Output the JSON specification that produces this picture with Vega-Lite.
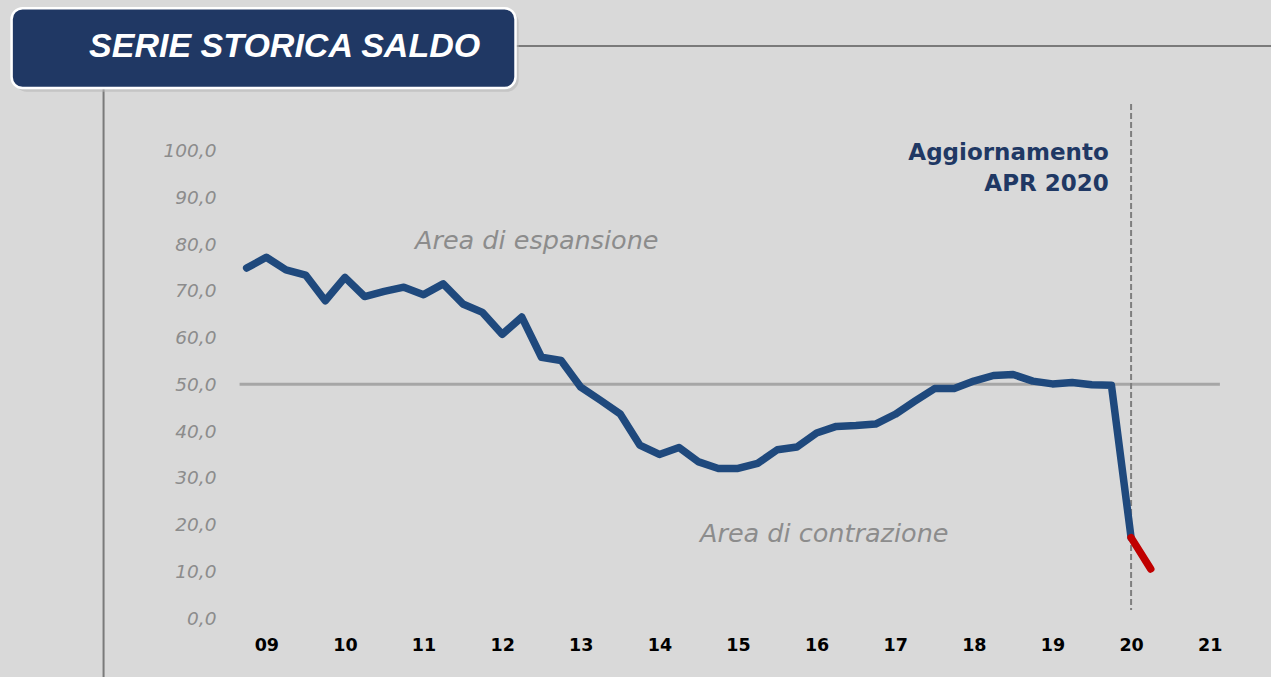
{
  "$schema": "https://vega.github.io/schema/vega-lite/v6.json",
  "width": 1022,
  "height": 514,
  "autosize": {"type": "none"},
  "padding": {"left": 227, "top": 104, "right": 22, "bottom": 59},
  "background": "#d9d9d9",
  "config": {"view": {"stroke": null}},
  "datasets": {
    "serie": [
      {"t": 2008.75, "v": 74.9, "s": "storico"},
      {"t": 2009.0, "v": 77.2, "s": "storico"},
      {"t": 2009.25, "v": 74.5, "s": "storico"},
      {"t": 2009.5, "v": 73.4, "s": "storico"},
      {"t": 2009.75, "v": 67.9, "s": "storico"},
      {"t": 2010.0, "v": 72.9, "s": "storico"},
      {"t": 2010.25, "v": 68.8, "s": "storico"},
      {"t": 2010.5, "v": 69.9, "s": "storico"},
      {"t": 2010.75, "v": 70.8, "s": "storico"},
      {"t": 2011.0, "v": 69.2, "s": "storico"},
      {"t": 2011.25, "v": 71.5, "s": "storico"},
      {"t": 2011.5, "v": 67.2, "s": "storico"},
      {"t": 2011.75, "v": 65.4, "s": "storico"},
      {"t": 2012.0, "v": 60.7, "s": "storico"},
      {"t": 2012.25, "v": 64.4, "s": "storico"},
      {"t": 2012.5, "v": 55.8, "s": "storico"},
      {"t": 2012.75, "v": 55.1, "s": "storico"},
      {"t": 2013.0, "v": 49.4, "s": "storico"},
      {"t": 2013.25, "v": 46.6, "s": "storico"},
      {"t": 2013.5, "v": 43.7, "s": "storico"},
      {"t": 2013.75, "v": 37.0, "s": "storico"},
      {"t": 2014.0, "v": 35.0, "s": "storico"},
      {"t": 2014.25, "v": 36.5, "s": "storico"},
      {"t": 2014.5, "v": 33.4, "s": "storico"},
      {"t": 2014.75, "v": 32.0, "s": "storico"},
      {"t": 2015.0, "v": 32.0, "s": "storico"},
      {"t": 2015.25, "v": 33.1, "s": "storico"},
      {"t": 2015.5, "v": 36.0, "s": "storico"},
      {"t": 2015.75, "v": 36.6, "s": "storico"},
      {"t": 2016.0, "v": 39.6, "s": "storico"},
      {"t": 2016.25, "v": 41.0, "s": "storico"},
      {"t": 2016.5, "v": 41.2, "s": "storico"},
      {"t": 2016.75, "v": 41.5, "s": "storico"},
      {"t": 2017.0, "v": 43.6, "s": "storico"},
      {"t": 2017.25, "v": 46.4, "s": "storico"},
      {"t": 2017.5, "v": 49.1, "s": "storico"},
      {"t": 2017.75, "v": 49.1, "s": "storico"},
      {"t": 2018.0, "v": 50.7, "s": "storico"},
      {"t": 2018.25, "v": 51.9, "s": "storico"},
      {"t": 2018.5, "v": 52.1, "s": "storico"},
      {"t": 2018.75, "v": 50.7, "s": "storico"},
      {"t": 2019.0, "v": 50.1, "s": "storico"},
      {"t": 2019.25, "v": 50.4, "s": "storico"},
      {"t": 2019.5, "v": 49.9, "s": "storico"},
      {"t": 2019.75, "v": 49.8, "s": "storico"},
      {"t": 2020.0, "v": 17.2, "s": "storico"},
      {"t": 2020.0, "v": 17.2, "s": "aprile"},
      {"t": 2020.25, "v": 10.5, "s": "aprile"}
    ]
  },
  "layer": [
    {
      "data": {"values": [{"x1": 2006.93, "x2": 2006.93, "y1": 113.4, "y2": -12.6}, {"x1": 2012.17, "x2": 2021.78, "y1": 122.4, "y2": 122.4}]},
      "mark": {"type": "rule", "color": "#7a7a7a", "strokeWidth": 2},
      "encoding": {
        "x": {"field": "x1", "type": "quantitative", "scale": {"domain": [2008.5, 2021.5], "nice": false, "zero": false}},
        "x2": {"field": "x2"},
        "y": {"field": "y1", "type": "quantitative", "scale": {"domain": [0, 110], "nice": false}},
        "y2": {"field": "y2"}
      }
    },
    {
      "data": {"values": [{"x1": 2005.80, "x2": 2012.21, "y1": 130.0, "y2": 112.6}]},
      "mark": {"type": "rect", "color": "#b8b8b8", "opacity": 0.6, "cornerRadius": 12},
      "encoding": {
        "x": {"field": "x1", "type": "quantitative"},
        "x2": {"field": "x2"},
        "y": {"field": "y1", "type": "quantitative"},
        "y2": {"field": "y2"}
      }
    },
    {
      "data": {"values": [{"x1": 2005.76, "x2": 2012.17, "y1": 130.5, "y2": 113.4}]},
      "mark": {"type": "rect", "color": "#203864", "stroke": "#ffffff", "strokeWidth": 2.5, "cornerRadius": 11},
      "encoding": {
        "x": {"field": "x1", "type": "quantitative"},
        "x2": {"field": "x2"},
        "y": {"field": "y1", "type": "quantitative"},
        "y2": {"field": "y2"}
      }
    },
    {
      "data": {"values": [{"x": 2009.233, "y": 122.2, "label": "SERIE STORICA SALDO"}]},
      "mark": {"type": "text", "color": "#ffffff", "font": "Liberation Sans", "fontSize": 34, "fontWeight": "bold", "fontStyle": "italic", "align": "center", "baseline": "middle"},
      "encoding": {
        "x": {"field": "x", "type": "quantitative"},
        "y": {"field": "y", "type": "quantitative"},
        "text": {"field": "label"}
      }
    },
    {
      "data": {"values": [{"x1": 2008.66, "x2": 2021.13, "y": 50}]},
      "mark": {"type": "rule", "color": "#a6a6a6", "strokeWidth": 3},
      "encoding": {
        "x": {"field": "x1", "type": "quantitative"},
        "x2": {"field": "x2"},
        "y": {"field": "y", "type": "quantitative"}
      }
    },
    {
      "data": {"values": [{"x": 2020.0, "y1": 110, "y2": 1.7}]},
      "mark": {"type": "rule", "color": "#7f7f7f", "strokeWidth": 2, "strokeDash": [6, 3]},
      "encoding": {
        "x": {"field": "x", "type": "quantitative"},
        "y": {"field": "y1", "type": "quantitative"},
        "y2": {"field": "y2"}
      }
    },
    {
      "data": {"name": "serie"},
      "mark": {"type": "line", "strokeWidth": 7.5, "strokeCap": "round", "strokeJoin": "round"},
      "encoding": {
        "x": {
          "field": "t", "type": "quantitative", "title": null,
          "axis": {
            "values": [2009, 2010, 2011, 2012, 2013, 2014, 2015, 2016, 2017, 2018, 2019, 2020, 2021],
            "labelExpr": "substring(toString(datum.value), 2)",
            "domain": false, "ticks": false, "grid": false,
            "labelFont": "DejaVu Sans", "labelFontSize": 17.5, "labelFontWeight": "bold", "labelColor": "#000000",
            "labelPadding": 18, "labelFlush": false
          }
        },
        "y": {
          "field": "v", "type": "quantitative", "title": null,
          "axis": {
            "values": [0, 10, 20, 30, 40, 50, 60, 70, 80, 90, 100],
            "labelExpr": "replace(format(datum.value, '.1f'), '.', ',')",
            "domain": false, "ticks": false, "grid": false,
            "labelFont": "DejaVu Sans", "labelFontSize": 18.5, "labelFontStyle": "italic", "labelColor": "#8c8c8c",
            "labelPadding": 11, "labelFlush": false
          }
        },
        "color": {"field": "s", "type": "nominal", "legend": null, "scale": {"domain": ["storico", "aprile"], "range": ["#1f497d", "#c00000"]}},
        "order": {"field": "t", "type": "quantitative"}
      }
    },
    {
      "data": {"values": [{"x": 2019.716, "y": 99.5, "label": "Aggiornamento"}, {"x": 2019.716, "y": 92.9, "label": "APR 2020"}]},
      "mark": {"type": "text", "color": "#203864", "font": "DejaVu Sans", "fontSize": 23, "fontWeight": "bold", "align": "right", "baseline": "middle"},
      "encoding": {
        "x": {"field": "x", "type": "quantitative"},
        "y": {"field": "y", "type": "quantitative"},
        "text": {"field": "label"}
      }
    },
    {
      "data": {"values": [{"x": 2012.44, "y": 80.7, "label": "Area di espansione"}, {"x": 2016.097, "y": 18.0, "label": "Area di contrazione"}]},
      "mark": {"type": "text", "color": "#8c8c8c", "font": "DejaVu Sans", "fontSize": 25.5, "fontStyle": "italic", "align": "center", "baseline": "middle"},
      "encoding": {
        "x": {"field": "x", "type": "quantitative"},
        "y": {"field": "y", "type": "quantitative"},
        "text": {"field": "label"}
      }
    }
  ]
}
